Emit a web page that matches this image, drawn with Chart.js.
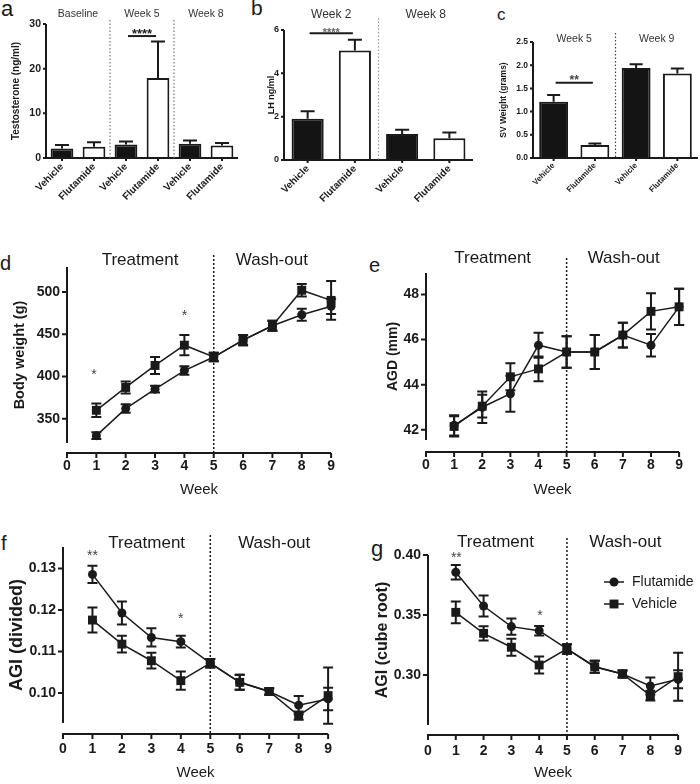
<!DOCTYPE html>
<html>
<head>
<meta charset="utf-8">
<script src="https://cdn.jsdelivr.net/npm/chart.js@4.4.0/dist/chart.umd.min.js"></script>
<style>
    body { margin: 0; background: #fff; width: 700px; height: 784px; position: relative; overflow: hidden; font-family: "Liberation Sans", Arial, sans-serif; }
    canvas { position: absolute; }
    .letter { position: absolute; line-height: 1; color: #1a1a1a; }
</style>
</head>
<body>
<div class="letter" style="left:1px;top:-2px;font-size:22px">a</div>
<div class="letter" style="left:251px;top:-3px;font-size:21px">b</div>
<div class="letter" style="left:497px;top:6px;font-size:17px">c</div>
<div class="letter" style="left:0px;top:253px;font-size:20px">d</div>
<div class="letter" style="left:369px;top:255px;font-size:20px">e</div>
<div class="letter" style="left:1px;top:533px;font-size:20px">f</div>
<div class="letter" style="left:371px;top:538px;font-size:22px">g</div>

<canvas id="chartA" width="240" height="210" style="left:0;top:0"></canvas>
<canvas id="chartB" width="240" height="210" style="left:235px;top:0"></canvas>
<canvas id="chartC" width="230" height="210" style="left:470px;top:0"></canvas>
<canvas id="chartD" width="350" height="290" style="left:0;top:215px"></canvas>
<canvas id="chartE" width="350" height="290" style="left:350px;top:215px"></canvas>
<canvas id="chartF" width="350" height="309" style="left:0;top:475px"></canvas>
<canvas id="chartG" width="350" height="309" style="left:350px;top:475px"></canvas>

<script>
// ---- data ----
const groupLabels = ['Vehicle', 'Flutamide'];
const barFills = ['#141414', '#ffffff'];

// a: serum testosterone
const testoGroups = ['Baseline', 'Week 5', 'Week 8'];
const testoMeans = [2.1, 2.5, 3.0, 17.9, 3.2, 2.8];
const testoErr = [0.8, 1.0, 0.7, 8.2, 0.7, 0.55];
const testoTicks = [0, 10, 20, 30];

// b: LH
const lhGroups = ['Week 2', 'Week 8'];
const lhMeans = [1.9, 5.05, 1.2, 1.0];
const lhErr = [0.35, 0.5, 0.2, 0.27];
const lhTicks = [0, 2, 4, 6];

// c: seminal vesicle weight
const svGroups = ['Week 5', 'Week 9'];
const svMeans = [1.21, 0.28, 1.94, 1.82];
const svErr = [0.15, 0.03, 0.08, 0.11];
const svTicks = [0, 0.5, 1.0, 1.5, 2.0, 2.5];

// d-g: weekly measurements
const weeks = [1, 2, 3, 4, 5, 6, 7, 8, 9];
const weekTicks = [0, 1, 2, 3, 4, 5, 6, 7, 8, 9];

const bwFlut = [330, 362, 385, 407, 423, 443, 460, 473, 483];
const bwFlutErr = [4, 5, 4, 5, 5, 6, 6, 7, 9];
const bwVeh = [360, 387, 413, 437, 423, 443, 460, 502, 490];
const bwVehErr = [8, 7, 10, 12, 5, 6, 6, 7.5, 23];
const bwTicks = [350, 400, 450, 500];

const agdFlut = [42.2, 43.0, 43.6, 45.75, 45.45, 45.45, 46.2, 45.75, 47.45];
const agdFlutErr = [0.45, 0.7, 0.8, 0.55, 0.7, 0.75, 0.55, 0.5, 0.8];
const agdVeh = [42.15, 43.05, 44.35, 44.7, 45.45, 45.45, 46.2, 47.25, 47.45];
const agdVehErr = [0.45, 0.5, 0.6, 0.55, 0.7, 0.75, 0.55, 0.8, 0.8];
const agdTicks = [42, 44, 46, 48];

const agiDivFlut = [0.1286, 0.1193, 0.1134, 0.1124, 0.1072, 0.1026, 0.1004, 0.0971, 0.0986];
const agiDivFlutErr = [0.0021, 0.0028, 0.0022, 0.0014, 0.001, 0.0018, 0.0008, 0.0022, 0.0027];
const agiDivVeh = [0.1176, 0.1118, 0.1078, 0.1030, 0.1072, 0.1026, 0.1004, 0.0946, 0.0994];
const agiDivVehErr = [0.003, 0.002, 0.0019, 0.0022, 0.001, 0.0018, 0.0008, 0.001, 0.0068];
const agiDivTicks = [0.10, 0.11, 0.12, 0.13];

const agiCubeFlut = [0.3856, 0.3575, 0.3403, 0.3369, 0.3217, 0.3069, 0.3008, 0.2908, 0.2964];
const agiCubeFlutErr = [0.006, 0.0087, 0.0067, 0.004, 0.004, 0.005, 0.003, 0.007, 0.0075];
const agiCubeVeh = [0.3522, 0.3347, 0.3231, 0.3083, 0.3217, 0.3069, 0.3008, 0.2828, 0.2986];
const agiCubeVehErr = [0.009, 0.006, 0.007, 0.007, 0.004, 0.005, 0.003, 0.004, 0.02];
const agiCubeTicks = [0.30, 0.35, 0.40];

// ---- look ----
const ink = '#1a1a1a';
const family = '"Liberation Sans", Arial, sans-serif';
Chart.defaults.font.family = family;
Chart.defaults.color = ink;

function marker(ctx, style, px, py, r) {
    ctx.beginPath();
    if (style === 'rect') {
        const s = r * Math.SQRT1_2;
        ctx.rect(px - s, py - s, 2 * s, 2 * s);
    } else {
        ctx.arc(px, py, r, 0, Math.PI * 2);
    }
    ctx.fill();
}

// GraphPad-ish axes, error bars, dividers and labels
const gpPlugin = {
    id: 'gp',
    afterDatasetsDraw(chart) {
        const o = chart.options.plugins.gp;
        const { ctx, scales: { y } } = chart;
        ctx.save();
        ctx.strokeStyle = ink;
        ctx.lineWidth = o.errWidth || 2;
        chart.data.datasets.forEach((ds, di) => {
            if (!ds.errorBars) return;
            chart.getDatasetMeta(di).data.forEach((el, i) => {
                const raw = ds.data[i];
                const v = typeof raw === 'object' ? raw.y : raw;
                const e = ds.errorBars[i];
                const hi = y.getPixelForValue(v + e);
                const lo = o.bars ? el.y : y.getPixelForValue(v - e);
                ctx.beginPath();
                ctx.moveTo(el.x, lo);
                ctx.lineTo(el.x, hi);
                ctx.moveTo(el.x - o.cap, hi);
                ctx.lineTo(el.x + o.cap, hi);
                if (!o.bars) {
                    ctx.moveTo(el.x - o.cap, lo);
                    ctx.lineTo(el.x + o.cap, lo);
                }
                ctx.stroke();
            });
        });
        ctx.restore();
    },
    afterDraw(chart) {
        const o = chart.options.plugins.gp;
        const { ctx, chartArea: a, scales: { x, y } } = chart;
        const axisY = a.bottom + (o.xGap || 0);
        const catX = (c) => (x.getPixelForValue(c[0]) + x.getPixelForValue(c[1])) / 2;
        ctx.save();

        // axes and tick marks
        ctx.strokeStyle = ink;
        ctx.lineWidth = 2;
        ctx.beginPath();
        ctx.moveTo(a.left, a.top);
        ctx.lineTo(a.left, o.xGap ? a.bottom : axisY + 1);
        y.ticks.forEach(t => {
            const py = y.getPixelForValue(t.value);
            ctx.moveTo(a.left - o.tick, py);
            ctx.lineTo(a.left, py);
        });
        ctx.moveTo(a.left - 1, axisY);
        ctx.lineTo(a.right, axisY);
        const xs = o.bars
            ? chart.data.labels.map((_, i) => x.getPixelForValue(i))
            : x.ticks.map(t => x.getPixelForValue(t.value));
        xs.forEach(px => {
            ctx.moveTo(px, axisY);
            ctx.lineTo(px, axisY + o.tick);
        });
        ctx.stroke();

        // dotted dividers
        (o.dividers || []).forEach(d => {
            const px = d.cats ? catX(d.cats) : x.getPixelForValue(d.x);
            ctx.save();
            ctx.strokeStyle = d.color || ink;
            ctx.lineWidth = d.width || 1.5;
            ctx.setLineDash(d.dash || [2, 2]);
            ctx.beginPath();
            ctx.moveTo(px, d.top);
            ctx.lineTo(px, axisY);
            ctx.stroke();
            ctx.restore();
        });

        // significance bars
        (o.sig || []).forEach(s => {
            const x0 = x.getPixelForValue(s.from) + 2;
            const x1 = x.getPixelForValue(s.to) - 2;
            const py = y.getPixelForValue(s.yv);
            ctx.lineWidth = 2;
            ctx.strokeStyle = ink;
            ctx.beginPath();
            ctx.moveTo(x0, py);
            ctx.lineTo(x1, py);
            ctx.stroke();
            ctx.fillStyle = s.color || ink;
            ctx.font = `bold ${s.size}px ${family}`;
            ctx.textAlign = 'center';
            ctx.textBaseline = 'alphabetic';
            ctx.fillText(s.text, (x0 + x1) / 2, py - s.gap + 0.55 * s.size);
        });

        // free text
        (o.texts || []).forEach(t => {
            const px = t.cats ? catX(t.cats) : x.getPixelForValue(t.x);
            let py = t.yv !== undefined ? y.getPixelForValue(t.yv) : t.y;
            ctx.fillStyle = t.color || ink;
            ctx.font = `${t.weight || 'normal'} ${t.size}px ${family}`;
            ctx.textAlign = 'center';
            if (t.star) {
                ctx.textBaseline = 'alphabetic';
                py += 0.55 * t.size;
            } else {
                ctx.textBaseline = 'middle';
            }
            ctx.fillText(t.text, px, py);
        });

        // legend
        if (o.legend) {
            const L = o.legend;
            chart.data.datasets.forEach((ds, i) => {
                const py = L.y + i * L.gap;
                ctx.strokeStyle = ink;
                ctx.fillStyle = ink;
                ctx.lineWidth = 1.5;
                ctx.beginPath();
                ctx.moveTo(L.x, py);
                ctx.lineTo(L.x + 20, py);
                ctx.stroke();
                marker(ctx, ds.pointStyle, L.x + 10, py, ds.pointRadius);
                ctx.font = `${L.size}px ${family}`;
                ctx.textAlign = 'left';
                ctx.textBaseline = 'middle';
                ctx.fillText(ds.label, L.x + 28, py);
            });
        }
        ctx.restore();
    }
};

function barChart(id, cfg) {
    return new Chart(document.getElementById(id), {
        type: 'bar',
        plugins: [gpPlugin],
        data: {
            labels: cfg.means.map((_, i) => groupLabels[i % 2]),
            datasets: [{
                data: cfg.means,
                errorBars: cfg.err,
                backgroundColor: cfg.means.map((_, i) => barFills[i % 2]),
                borderColor: ink,
                borderWidth: 2,
                barPercentage: cfg.barPct,
                categoryPercentage: 1
            }]
        },
        options: {
            responsive: false,
            animation: false,
            devicePixelRatio: 1,
            layout: { padding: { top: cfg.area.top, right: cfg.area.right, left: 0, bottom: 0 } },
            plugins: {
                legend: { display: false },
                tooltip: { enabled: false },
                gp: cfg.gp
            },
            scales: {
                x: {
                    grid: { display: false, drawTicks: false },
                    border: { display: false },
                    ticks: {
                        minRotation: 45, maxRotation: 45, autoSkip: false,
                        padding: 3, color: ink,
                        font: { size: cfg.xFont, weight: 'bold' }
                    },
                    afterFit: s => { s.height = cfg.area.xHeight; }
                },
                y: {
                    min: 0,
                    max: cfg.ticks[cfg.ticks.length - 1],
                    afterBuildTicks: s => { s.ticks = cfg.ticks.map(v => ({ value: v })); },
                    grid: { display: false, drawTicks: false },
                    border: { display: false },
                    ticks: {
                        padding: cfg.yPad, color: ink,
                        font: { size: cfg.yFont, weight: 'bold' },
                        callback: cfg.fmt || (v => v)
                    },
                    title: {
                        display: true, text: cfg.yTitle, color: ink,
                        font: { size: cfg.titleFont, weight: 'bold' },
                        padding: { top: cfg.titlePad, bottom: 0 }
                    },
                    afterFit: s => { s.width = cfg.area.left; }
                }
            }
        }
    });
}

function series(label, vals, err, style, radius, order) {
    return {
        label: label,
        data: weeks.map((w, i) => ({ x: w, y: vals[i] })),
        errorBars: err,
        showLine: true,
        borderColor: ink,
        borderWidth: 1.5,
        backgroundColor: ink,
        pointStyle: style,
        pointRadius: radius,
        pointHoverRadius: radius,
        pointBorderWidth: 0,
        order: order,
        clip: false
    };
}

function lineChart(id, cfg) {
    return new Chart(document.getElementById(id), {
        type: 'scatter',
        plugins: [gpPlugin],
        data: {
            datasets: [
                series('Flutamide', cfg.flut, cfg.flutErr, 'circle', 4.5, 1),
                series('Vehicle', cfg.veh, cfg.vehErr, 'rect', 6.3, 0)
            ]
        },
        options: {
            responsive: false,
            animation: false,
            devicePixelRatio: 1,
            layout: { padding: { top: cfg.area.top, right: cfg.area.right, left: 0, bottom: 0 } },
            plugins: {
                legend: { display: false },
                tooltip: { enabled: false },
                gp: cfg.gp
            },
            scales: {
                x: {
                    type: 'linear', min: 0, max: 9,
                    afterBuildTicks: s => { s.ticks = weekTicks.map(v => ({ value: v })); },
                    grid: { display: false, drawTicks: false },
                    border: { display: false },
                    ticks: { autoSkip: false, maxRotation: 0, padding: cfg.xPad, color: ink, font: { size: 14, weight: 'bold' } },
                    title: { display: true, text: 'Week', color: ink, font: { size: 15 }, padding: { top: 0, bottom: cfg.weekPad } },
                    afterFit: s => { s.height = cfg.area.xHeight; }
                },
                y: {
                    min: cfg.yMin, max: cfg.yMax,
                    afterBuildTicks: s => { s.ticks = cfg.ticks.map(v => ({ value: v })); },
                    grid: { display: false, drawTicks: false },
                    border: { display: false },
                    ticks: { padding: 7, color: ink, font: { size: 14, weight: 'bold' }, callback: cfg.fmt || (v => v) },
                    title: {
                        display: true, text: cfg.yTitle, color: ink,
                        font: { size: cfg.titleFont, weight: 'bold' },
                        padding: { top: cfg.titlePad, bottom: 0 }
                    },
                    afterFit: s => { s.width = cfg.area.left; }
                }
            }
        }
    });
}

// a
barChart('chartA', {
    means: testoMeans, err: testoErr, ticks: testoTicks, barPct: 0.71,
    area: { top: 24, right: 2, left: 46, xHeight: 52 },
    xFont: 10, yFont: 10.5, yPad: 5, titleFont: 10, titlePad: 10,
    yTitle: 'Testosterone (ng/ml)',
    gp: {
        bars: true, cap: 7, tick: 3,
        dividers: [
            { cats: [1, 2], top: 20, color: '#777', width: 1.2, dash: [1.5, 2] },
            { cats: [3, 4], top: 20, color: '#777', width: 1.2, dash: [1.5, 2] }
        ],
        sig: [{ from: 2, to: 3, yv: 27.3, text: '****', size: 13, gap: 5 }],
        texts: testoGroups.map((g, i) => ({ text: g, cats: [2 * i, 2 * i + 1], y: 14, size: 10.5, color: '#333' }))
    }
});

// b
barChart('chartB', {
    means: lhMeans, err: lhErr, ticks: lhTicks, barPct: 0.68,
    area: { top: 30, right: 2, left: 49, xHeight: 50 },
    xFont: 10, yFont: 9, yPad: 5, titleFont: 9, titlePad: 31,
    yTitle: 'LH ng/ml',
    gp: {
        bars: true, cap: 7, tick: 3,
        dividers: [{ cats: [1, 2], top: 18, color: '#999', width: 1.2, dash: [1.5, 2] }],
        sig: [{ from: 0, to: 1, yv: 5.85, text: '****', size: 11, gap: 3, color: '#666' }],
        texts: lhGroups.map((g, i) => ({ text: g, cats: [2 * i, 2 * i + 1], y: 15, size: 12, color: '#333' }))
    }
});

// c
barChart('chartC', {
    means: svMeans, err: svErr, ticks: svTicks, barPct: 0.7,
    area: { top: 42, right: 2, left: 63, xHeight: 52 },
    xFont: 8, yFont: 8.5, yPad: 5, titleFont: 8.5, titlePad: 29,
    yTitle: 'SV Weight (grams)', fmt: v => v.toFixed(1),
    gp: {
        bars: true, cap: 6.5, tick: 3,
        dividers: [{ cats: [1, 2], top: 33, color: '#444', width: 1.2, dash: [1.5, 2] }],
        sig: [{ from: 0, to: 1, yv: 1.62, text: '**', size: 12, gap: 5, color: '#444' }],
        texts: svGroups.map((g, i) => ({ text: g, cats: [2 * i, 2 * i + 1], y: 39, size: 10.5, color: '#333' }))
    }
});

// d
lineChart('chartD', {
    flut: bwFlut, flutErr: bwFlutErr, veh: bwVeh, vehErr: bwVehErr,
    yMin: 321.3, yMax: 529.5, ticks: bwTicks,
    area: { top: 52, right: 17, left: 67, xHeight: 62 },
    xPad: 15, weekPad: 6, titleFont: 14.5, titlePad: 11,
    yTitle: 'Body weight (g)',
    gp: {
        cap: 5, tick: 5, xGap: 10,
        dividers: [{ x: 5, top: 40 }],
        texts: [
            { text: 'Treatment', x: 2.49, y: 45, size: 17 },
            { text: 'Wash-out', x: 6.98, y: 45, size: 17 },
            { text: '*', x: 0.92, yv: 406, size: 14, star: true, color: '#444' },
            { text: '*', x: 4.0, yv: 476, size: 14, star: true, color: '#444' }
        ]
    }
});

// e
lineChart('chartE', {
    flut: agdFlut, flutErr: agdFlutErr, veh: agdVeh, vehErr: agdVehErr,
    yMin: 41.55, yMax: 48.95, ticks: agdTicks,
    area: { top: 58, right: 15, left: 76, xHeight: 65 },
    xPad: 17, weekPad: 6, titleFont: 14, titlePad: 35,
    yTitle: 'AGD (mm)',
    gp: {
        cap: 5, tick: 5, xGap: 12,
        dividers: [{ x: 5, top: 43 }],
        texts: [
            { text: 'Treatment', x: 2.37, y: 43, size: 17 },
            { text: 'Wash-out', x: 7.03, y: 43, size: 17 }
        ]
    }
});

// f
lineChart('chartF', {
    flut: agiDivFlut, flutErr: agiDivFlutErr, veh: agiDivVeh, vehErr: agiDivVehErr,
    yMin: 0.0928, yMax: 0.1352, ticks: agiDivTicks, fmt: v => v.toFixed(2),
    area: { top: 72, right: 18, left: 63, xHeight: 61 },
    xPad: 18, weekPad: 2, titleFont: 18, titlePad: 6,
    yTitle: 'AGI (divided)',
    gp: {
        cap: 5, tick: 5, xGap: 11,
        dividers: [{ x: 5, top: 60 }],
        texts: [
            { text: 'Treatment', x: 2.84, y: 68, size: 17 },
            { text: 'Wash-out', x: 7.17, y: 68, size: 17 },
            { text: '**', x: 1.0, yv: 0.1339, size: 14, star: true, color: '#444' },
            { text: '*', x: 4.0, yv: 0.1188, size: 14, star: true, color: '#444' }
        ]
    }
});

// g
lineChart('chartG', {
    flut: agiCubeFlut, flutErr: agiCubeFlutErr, veh: agiCubeVeh, vehErr: agiCubeVehErr,
    yMin: 0.2583, yMax: 0.40, ticks: agiCubeTicks, fmt: v => v.toFixed(2),
    area: { top: 80, right: 13, left: 78, xHeight: 59 },
    xPad: 18, weekPad: 2, titleFont: 16, titlePad: 23,
    yTitle: 'AGI (cube root)',
    gp: {
        cap: 5, tick: 5, xGap: 10,
        dividers: [{ x: 5, top: 63 }],
        legend: { x: 254, y: 107, gap: 22, size: 14 },
        texts: [
            { text: 'Treatment', x: 2.43, y: 67, size: 17 },
            { text: 'Wash-out', x: 7.1, y: 67, size: 17 },
            { text: '**', x: 1.02, yv: 0.4003, size: 14, star: true, color: '#444' },
            { text: '*', x: 4.03, yv: 0.3525, size: 14, star: true, color: '#444' }
        ]
    }
});
</script>
</body>
</html>
